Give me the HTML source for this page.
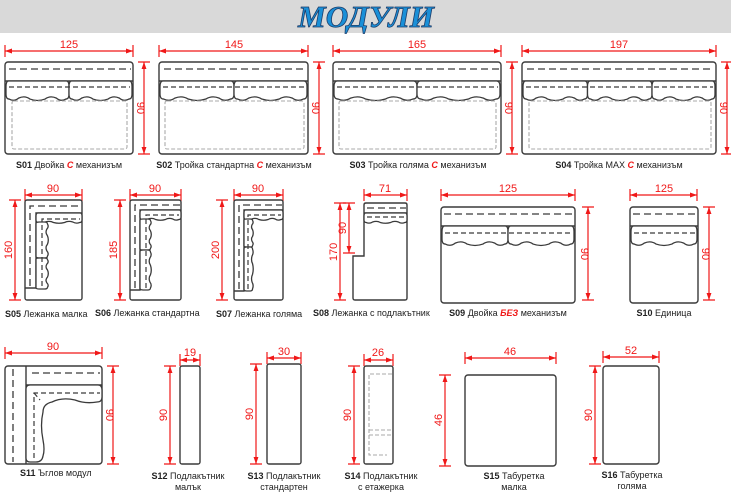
<!DOCTYPE html>
<html><head><meta charset="utf-8"><style>
html,body{margin:0;padding:0;background:#fff;}
svg{display:block;}
.b{fill:none;stroke:#3a3a3a;stroke-width:1.4;}
.d{fill:none;stroke:#3a3a3a;stroke-width:1.3;stroke-dasharray:7,4;}
.dd{fill:none;stroke:#3a3a3a;stroke-width:1.2;stroke-dasharray:5,3;}
.g{fill:none;stroke:#aaa;stroke-width:1.1;stroke-dasharray:4,2;}
.r{stroke:#f01818;stroke-width:1.2;fill:none;}
.rt{fill:#f01818;font-family:"Liberation Sans",sans-serif;font-size:11px;text-anchor:middle;}
.l{font-family:"Liberation Sans",sans-serif;font-size:9px;fill:#222;}
.c{text-anchor:middle;}
.red{fill:#f01818;font-weight:bold;font-style:italic;}
.cu{fill:#fff;stroke:#3a3a3a;stroke-width:1.3;}
</style></head><body>
<svg width="731" height="500" viewBox="0 0 731 500" xmlns="http://www.w3.org/2000/svg">
<defs>
<marker id="a" viewBox="0 0 10 10" refX="10" refY="5" markerWidth="7" markerHeight="7" orient="auto-start-reverse" markerUnits="userSpaceOnUse"><path d="M10,5 L0,1.5 L0,8.5 Z" fill="#f01818"/></marker>
<path id="cus" d="M4,0 L96,0 Q100,0 100,6 L100,14 Q100,19 95,19 Q87,22 80,18 Q70,15 62,19 Q50,22 38,19 Q30,15 20,18 Q13,22 5,19 Q0,19 0,14 L0,6 Q0,0 4,0 Z" class="cu" vector-effect="non-scaling-stroke"/>
</defs>
<rect x="0" y="0" width="731" height="33" fill="#d9d9d9"/>
<text x="366" y="27" text-anchor="middle" font-family="Liberation Serif,serif" font-weight="bold" font-style="italic" font-size="31" fill="#1a90d8" stroke="#1d3d6a" stroke-width="0.8" textLength="136" lengthAdjust="spacingAndGlyphs">МОДУЛИ</text>

<!-- S01 -->
<g>
<path class="r" d="M5,45V57M133,45V57"/><line class="r" x1="5" y1="51" x2="133" y2="51" marker-start="url(#a)" marker-end="url(#a)"/>
<text class="rt" x="69" y="48">125</text>
<path class="r" d="M138,62H150M138,154H150"/><line class="r" x1="144" y1="62" x2="144" y2="154" marker-start="url(#a)" marker-end="url(#a)"/>
<text class="rt" transform="translate(137,108) rotate(90)">90</text>
<rect class="b" x="5" y="62" width="128" height="92" rx="3"/>
<line class="b" x1="5" y1="81" x2="133" y2="81"/><line class="d" x1="9" y1="69" x2="131" y2="69"/>
<use href="#cus" transform="translate(6,81) scale(0.63,0.95)"/><use href="#cus" transform="translate(69,81) scale(0.63,0.95)"/>
<line class="dd" x1="9" y1="87" x2="130" y2="87"/>
<rect class="g" x="12" y="101" width="115" height="48" rx="2"/>
<text class="l c" x="69" y="168"><tspan font-weight="bold">S01</tspan> Двойка  <tspan class="red">С</tspan> механизъм</text>
</g>
<!-- S02 -->
<g>
<path class="r" d="M159,45V57M308,45V57"/><line class="r" x1="159" y1="51" x2="308" y2="51" marker-start="url(#a)" marker-end="url(#a)"/>
<text class="rt" x="234" y="48">145</text>
<path class="r" d="M313,62H325M313,154H325"/><line class="r" x1="319" y1="62" x2="319" y2="154" marker-start="url(#a)" marker-end="url(#a)"/>
<text class="rt" transform="translate(312,108) rotate(90)">90</text>
<rect class="b" x="159" y="62" width="149" height="92" rx="3"/>
<line class="b" x1="159" y1="81" x2="308" y2="81"/><line class="d" x1="164" y1="69" x2="306" y2="69"/>
<use href="#cus" transform="translate(160,81) scale(0.74,0.95)"/><use href="#cus" transform="translate(234,81) scale(0.73,0.95)"/>
<line class="dd" x1="163" y1="87" x2="305" y2="87"/>
<rect class="g" x="165" y="101" width="139" height="48" rx="2"/>
<text class="l c" x="234" y="168"><tspan font-weight="bold">S02</tspan> Тройка стандартна <tspan class="red">С</tspan> механизъм</text>
</g>
<!-- S03 -->
<g>
<path class="r" d="M333,45V57M501,45V57"/><line class="r" x1="333" y1="51" x2="501" y2="51" marker-start="url(#a)" marker-end="url(#a)"/>
<text class="rt" x="417" y="48">165</text>
<path class="r" d="M506,62H518M506,154H518"/><line class="r" x1="512" y1="62" x2="512" y2="154" marker-start="url(#a)" marker-end="url(#a)"/>
<text class="rt" transform="translate(505,108) rotate(90)">90</text>
<rect class="b" x="333" y="62" width="168" height="92" rx="3"/>
<line class="b" x1="333" y1="81" x2="501" y2="81"/><line class="d" x1="338" y1="69" x2="499" y2="69"/>
<use href="#cus" transform="translate(334,81) scale(0.83,0.95)"/><use href="#cus" transform="translate(417,81) scale(0.83,0.95)"/>
<line class="dd" x1="337" y1="87" x2="498" y2="87"/>
<rect class="g" x="339" y="101" width="157" height="48" rx="2"/>
<text class="l c" x="418" y="168"><tspan font-weight="bold">S03</tspan> Тройка голяма <tspan class="red">С</tspan> механизъм</text>
</g>
<!-- S04 -->
<g>
<path class="r" d="M522,45V57M716,45V57"/><line class="r" x1="522" y1="51" x2="716" y2="51" marker-start="url(#a)" marker-end="url(#a)"/>
<text class="rt" x="619" y="48">197</text>
<path class="r" d="M721,62H731M721,154H731"/><line class="r" x1="727" y1="62" x2="727" y2="154" marker-start="url(#a)" marker-end="url(#a)"/>
<text class="rt" transform="translate(720,108) rotate(90)">90</text>
<rect class="b" x="522" y="62" width="194" height="92" rx="3"/>
<line class="b" x1="522" y1="81" x2="716" y2="81"/><line class="d" x1="527" y1="69" x2="714" y2="69"/>
<use href="#cus" transform="translate(523,81) scale(0.645,0.95)"/><use href="#cus" transform="translate(587.5,81) scale(0.645,0.95)"/><use href="#cus" transform="translate(652,81) scale(0.63,0.95)"/>
<line class="dd" x1="526" y1="87" x2="713" y2="87"/>
<rect class="g" x="529" y="101" width="182" height="48" rx="2"/>
<text class="l c" x="619" y="168"><tspan font-weight="bold">S04</tspan> Тройка MAX <tspan class="red">С</tspan> механизъм</text>
</g>

<!-- S05 -->
<g>
<path class="r" d="M25,189V201M82,189V201"/><line class="r" x1="25" y1="195" x2="82" y2="195" marker-start="url(#a)" marker-end="url(#a)"/>
<text class="rt" x="53" y="192">90</text>
<path class="r" d="M9,200H21M9,300H21"/><line class="r" x1="15" y1="200" x2="15" y2="300" marker-start="url(#a)" marker-end="url(#a)"/>
<text class="rt" transform="translate(12,250) rotate(-90)">160</text>
<rect class="b" x="25" y="200" width="57" height="100" rx="2"/>
<path class="b" d="M25,288H36V213H82"/>
<path class="d" d="M30,286V206H81"/>
<use href="#cus" transform="translate(36,213) scale(0.46,0.5)"/>
<use href="#cus" transform="translate(36,258) rotate(-90) scale(0.36,0.6)"/>
<use href="#cus" transform="translate(36,289) rotate(-90) scale(0.31,0.6)"/>
<path class="dd" d="M42,286V219H80"/>
<text class="l" x="5" y="317"><tspan font-weight="bold">S05</tspan> Лежанка малка</text>
</g>
<!-- S06 -->
<g>
<path class="r" d="M130,189V201M181,189V201"/><line class="r" x1="130" y1="195" x2="181" y2="195" marker-start="url(#a)" marker-end="url(#a)"/>
<text class="rt" x="155" y="192">90</text>
<path class="r" d="M114,200H126M114,300H126"/><line class="r" x1="120" y1="200" x2="120" y2="300" marker-start="url(#a)" marker-end="url(#a)"/>
<text class="rt" transform="translate(117,250) rotate(-90)">185</text>
<rect class="b" x="130" y="200" width="51" height="100" rx="2"/>
<path class="b" d="M130,290H140V210H181"/>
<path class="d" d="M135,288V205H180"/>
<use href="#cus" transform="translate(140,210) scale(0.41,0.5)"/>
<use href="#cus" transform="translate(140,250) rotate(-90) scale(0.31,0.55)"/>
<use href="#cus" transform="translate(140,290) rotate(-90) scale(0.40,0.55)"/>
<path class="dd" d="M146,288V215H179"/>
<text class="l" x="95" y="316"><tspan font-weight="bold">S06</tspan> Лежанка стандартна</text>
</g>
<!-- S07 -->
<g>
<path class="r" d="M234,189V201M283,189V201"/><line class="r" x1="234" y1="195" x2="283" y2="195" marker-start="url(#a)" marker-end="url(#a)"/>
<text class="rt" x="258" y="192">90</text>
<path class="r" d="M216,200H228M216,300H228"/><line class="r" x1="222" y1="200" x2="222" y2="300" marker-start="url(#a)" marker-end="url(#a)"/>
<text class="rt" transform="translate(219,250) rotate(-90)">200</text>
<rect class="b" x="234" y="200" width="49" height="100" rx="2"/>
<path class="b" d="M234,291H244V210H283"/>
<path class="d" d="M239,289V205H282"/>
<use href="#cus" transform="translate(244,210) scale(0.39,0.5)"/>
<use href="#cus" transform="translate(244,247) rotate(-90) scale(0.28,0.45)"/>
<use href="#cus" transform="translate(244,291) rotate(-90) scale(0.44,0.45)"/>
<path class="dd" d="M248,289V215H281"/>
<text class="l" x="216" y="317"><tspan font-weight="bold">S07</tspan> Лежанка голяма</text>
</g>
<!-- S08 -->
<g>
<path class="r" d="M364,189V201M407,189V201"/><line class="r" x1="364" y1="195" x2="407" y2="195" marker-start="url(#a)" marker-end="url(#a)"/>
<text class="rt" x="385" y="192">71</text>
<path class="r" d="M334,203H346M334,300H346"/><line class="r" x1="340" y1="203" x2="340" y2="300" marker-start="url(#a)" marker-end="url(#a)"/>
<text class="rt" transform="translate(337,252) rotate(-90)">170</text>
<path class="r" d="M343,203H355M343,253H355"/><line class="r" x1="349" y1="203" x2="349" y2="253" marker-start="url(#a)" marker-end="url(#a)"/>
<text class="rt" transform="translate(346,228) rotate(-90)">90</text>
<path class="b" d="M364,256V205Q364,203 366,203H405Q407,203 407,205V298Q407,300 405,300H355Q353,300 353,298V256Z"/>
<line class="b" x1="364" y1="213" x2="407" y2="213"/><line class="d" x1="367" y1="208" x2="406" y2="208"/>
<use href="#cus" transform="translate(364,213) scale(0.43,0.5)"/>
<line class="dd" x1="367" y1="217" x2="405" y2="217"/>
<text class="l" x="313" y="316"><tspan font-weight="bold">S08</tspan> Лежанка с подлакътник</text>
</g>
<!-- S09 -->
<g>
<path class="r" d="M441,189V201M575,189V201"/><line class="r" x1="441" y1="195" x2="575" y2="195" marker-start="url(#a)" marker-end="url(#a)"/>
<text class="rt" x="508" y="192">125</text>
<path class="r" d="M582,207H594M582,300H594"/><line class="r" x1="588" y1="207" x2="588" y2="300" marker-start="url(#a)" marker-end="url(#a)"/>
<text class="rt" transform="translate(581,254) rotate(90)">90</text>
<rect class="b" x="441" y="207" width="134" height="96" rx="3"/>
<line class="b" x1="441" y1="226" x2="575" y2="226"/><line class="d" x1="444" y1="214" x2="573" y2="214"/>
<use href="#cus" transform="translate(442,226) scale(0.66,0.95)"/><use href="#cus" transform="translate(508,226) scale(0.66,0.95)"/>
<line class="dd" x1="445" y1="233" x2="572" y2="233"/>
<text class="l c" x="508" y="316"><tspan font-weight="bold">S09</tspan> Двойка <tspan class="red">БЕЗ</tspan> механизъм</text>
</g>
<!-- S10 -->
<g>
<path class="r" d="M630,189V201M697,189V201"/><line class="r" x1="630" y1="195" x2="697" y2="195" marker-start="url(#a)" marker-end="url(#a)"/>
<text class="rt" x="664" y="192">125</text>
<path class="r" d="M703,207H715M703,300H715"/><line class="r" x1="709" y1="207" x2="709" y2="300" marker-start="url(#a)" marker-end="url(#a)"/>
<text class="rt" transform="translate(702,254) rotate(90)">90</text>
<rect class="b" x="630" y="207" width="68" height="96" rx="3"/>
<line class="b" x1="630" y1="226" x2="698" y2="226"/><line class="d" x1="633" y1="214" x2="697" y2="214"/>
<use href="#cus" transform="translate(631,226) scale(0.66,0.95)"/>
<line class="dd" x1="634" y1="233" x2="695" y2="233"/>
<text class="l c" x="664" y="316"><tspan font-weight="bold">S10</tspan> Единица</text>
</g>

<!-- S11 -->
<g>
<path class="r" d="M5,347V359M102,347V359"/><line class="r" x1="5" y1="353" x2="102" y2="353" marker-start="url(#a)" marker-end="url(#a)"/>
<text class="rt" x="53" y="350">90</text>
<path class="r" d="M107,366H119M107,464H119"/><line class="r" x1="113" y1="366" x2="113" y2="464" marker-start="url(#a)" marker-end="url(#a)"/>
<text class="rt" transform="translate(106,415) rotate(90)">90</text>
<rect class="b" x="5" y="366" width="97" height="98" rx="3"/>
<line class="b" x1="26" y1="366" x2="26" y2="464"/><line class="d" x1="13" y1="369" x2="13" y2="462"/>
<line class="b" x1="26" y1="385" x2="102" y2="385"/><line class="d" x1="32" y1="373" x2="100" y2="373"/>
<path class="cu" d="M30,385 L98,385 Q102,385 102,390 L102,397 Q102,402 97,402 Q85,404 75,400 Q62,397 52,402 Q43,404 43,412 Q40,425 43,440 Q45,450 43,456 Q42,462 36,462 L30,462 Q26,462 26,458 L26,389 Q26,385 30,385 Z"/>
<path class="dd" d="M34,458V393H100"/>
<line class="dd" x1="34" y1="393" x2="40" y2="400"/>
<text class="l" x="20" y="476"><tspan font-weight="bold">S11</tspan> Ъглов модул</text>
</g>
<!-- S12 -->
<g>
<path class="r" d="M180,354V366M200,354V366"/><line class="r" x1="180" y1="360" x2="200" y2="360" marker-start="url(#a)" marker-end="url(#a)"/>
<text class="rt" x="190" y="356">19</text>
<path class="r" d="M164,366H176M164,464H176"/><line class="r" x1="170" y1="366" x2="170" y2="464" marker-start="url(#a)" marker-end="url(#a)"/>
<text class="rt" transform="translate(167,415) rotate(-90)">90</text>
<rect class="b" x="180" y="366" width="20" height="98" rx="2"/>
<text class="l c" x="188" y="479"><tspan font-weight="bold">S12</tspan> Подлакътник</text>
<text class="l c" x="188" y="490">малък</text>
</g>
<!-- S13 -->
<g>
<path class="r" d="M267,352V364M301,352V364"/><line class="r" x1="267" y1="358" x2="301" y2="358" marker-start="url(#a)" marker-end="url(#a)"/>
<text class="rt" x="284" y="355">30</text>
<path class="r" d="M250,364H262M250,464H262"/><line class="r" x1="256" y1="364" x2="256" y2="464" marker-start="url(#a)" marker-end="url(#a)"/>
<text class="rt" transform="translate(253,414) rotate(-90)">90</text>
<rect class="b" x="267" y="364" width="34" height="100" rx="2"/>
<text class="l c" x="284" y="479"><tspan font-weight="bold">S13</tspan> Подлакътник</text>
<text class="l c" x="284" y="490">стандартен</text>
</g>
<!-- S14 -->
<g>
<path class="r" d="M364,354V366M393,354V366"/><line class="r" x1="364" y1="360" x2="393" y2="360" marker-start="url(#a)" marker-end="url(#a)"/>
<text class="rt" x="378" y="356">26</text>
<path class="r" d="M348,366H360M348,464H360"/><line class="r" x1="354" y1="366" x2="354" y2="464" marker-start="url(#a)" marker-end="url(#a)"/>
<text class="rt" transform="translate(351,415) rotate(-90)">90</text>
<rect class="b" x="364" y="366" width="29" height="98" rx="2"/>
<path class="g" d="M392,374H369V455H387M369,430H392M369,435H392"/>
<text class="l c" x="381" y="479"><tspan font-weight="bold">S14</tspan> Подлакътник</text>
<text class="l c" x="381" y="490">с етажерка</text>
</g>
<!-- S15 -->
<g>
<path class="r" d="M465,352V364M556,352V364"/><line class="r" x1="465" y1="358" x2="556" y2="358" marker-start="url(#a)" marker-end="url(#a)"/>
<text class="rt" x="510" y="355">46</text>
<path class="r" d="M439,375H451M439,466H451"/><line class="r" x1="445" y1="375" x2="445" y2="466" marker-start="url(#a)" marker-end="url(#a)"/>
<text class="rt" transform="translate(442,420) rotate(-90)">46</text>
<rect class="b" x="465" y="375" width="91" height="91" rx="3"/>
<text class="l c" x="514" y="479"><tspan font-weight="bold">S15</tspan> Табуретка</text>
<text class="l c" x="514" y="490">малка</text>
</g>
<!-- S16 -->
<g>
<path class="r" d="M603,351V363M659,351V363"/><line class="r" x1="603" y1="357" x2="659" y2="357" marker-start="url(#a)" marker-end="url(#a)"/>
<text class="rt" x="631" y="354">52</text>
<path class="r" d="M589,366H601M589,464H601"/><line class="r" x1="595" y1="366" x2="595" y2="464" marker-start="url(#a)" marker-end="url(#a)"/>
<text class="rt" transform="translate(592,415) rotate(-90)">90</text>
<rect class="b" x="603" y="366" width="56" height="98" rx="3"/>
<text class="l c" x="632" y="478"><tspan font-weight="bold">S16</tspan> Табуретка</text>
<text class="l c" x="632" y="489">голяма</text>
</g>
</svg>
</body></html>
